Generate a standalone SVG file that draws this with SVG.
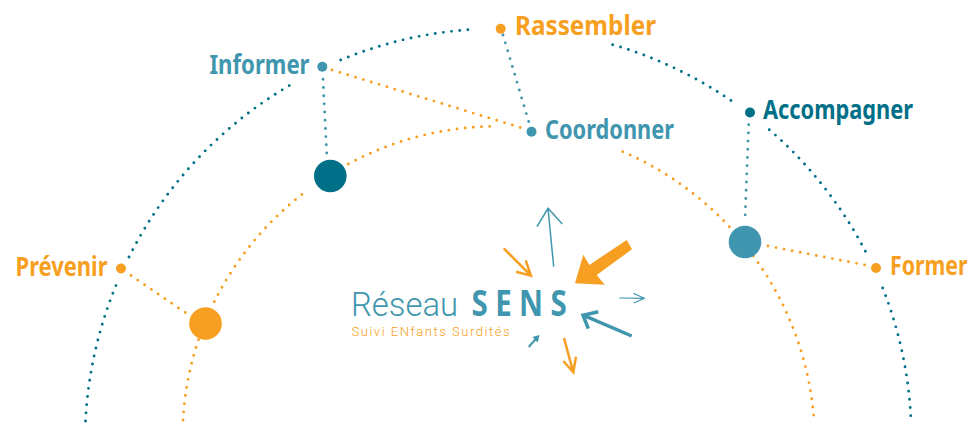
<svg xmlns="http://www.w3.org/2000/svg" width="970" height="423" viewBox="0 0 970 423">
<style>
.d{fill:none;stroke-width:2.9;stroke-linecap:round;stroke-dasharray:0 8.2}
.dk{stroke:#006f88}.lt{stroke:#4096ae}.or{stroke:#f79f20}
.fdk{fill:#006f88}.flt{fill:#4096ae}.for{fill:#f79f20}
.lab{font-family:"Noto Sans","Liberation Sans",sans-serif;font-weight:700;font-size:27px}
.ar{fill:none;stroke-linecap:butt;stroke-linejoin:miter}
</style>
<rect width="970" height="423" fill="#fff"/>
<g id="connectors">
<path class="d dk" d="M85.5 421A413 413 0 0 1 116.7 283.7"/>
<path class="d dk" d="M129 257A413 413 0 0 1 292 84"/>
<path class="d dk" d="M340.7 60A413 413 0 0 1 475.3 29.3"/>
<path class="d dk" d="M612.7 44.7A413 413 0 0 1 731.7 101"/>
<path class="d dk" d="M769.3 129.7A413 413 0 0 1 867.3 255"/>
<path class="d dk" d="M882.7 288A413 413 0 0 1 911 420"/>
<path class="d or" d="M183 420A315.7 315.7 0 0 1 198.7 339"/>
<path class="d or" d="M214.3 301.7A315.7 315.7 0 0 1 307.7 190"/>
<path class="d or" d="M348.3 164A315.7 315.7 0 0 1 497 126.3"/>
<path class="d or" d="M622.7 151.7A315.7 315.7 0 0 1 732.3 230"/>
<path class="d or" d="M753.3 256A315.7 315.7 0 0 1 814 420"/>
<path class="d or" d="M131 275.5L186.3 313.3"/>
<path class="d or" d="M332 70L524.3 128.7"/>
<path class="d or" d="M768 246L865 265"/>
<path class="d lt" d="M323 79.3L327 159.3"/>
<path class="d lt" d="M503 35L529.7 125"/>
<path class="d lt" d="M748.7 124.7L745 219.3"/>
</g>
<g id="node-informer"><circle class="flt" cx="322.3" cy="66.7" r="5"/><text class="lab flt" x="209.500" y="74" textLength="100" lengthAdjust="spacingAndGlyphs">Informer</text></g>
<g id="node-rassembler"><circle class="for" cx="500.700" cy="28.700" r="5"/><text class="lab for" x="515" y="35" textLength="141" lengthAdjust="spacingAndGlyphs">Rassembler</text></g>
<g id="node-coordonner"><circle class="flt" cx="531.500" cy="131.700" r="5"/><text class="lab flt" x="545" y="139" textLength="129" lengthAdjust="spacingAndGlyphs">Coordonner</text></g>
<g id="node-accompagner"><circle class="fdk" cx="750" cy="112.500" r="5"/><text class="lab fdk" x="763" y="119" textLength="150" lengthAdjust="spacingAndGlyphs">Accompagner</text></g>
<g id="node-former"><circle class="for" cx="876" cy="268" r="5"/><text class="lab for" transform="translate(890 275) scale(.79 1)">Former</text></g>
<g id="node-prevenir"><circle class="for" cx="121" cy="268.500" r="5"/><text class="lab for" x="15.500" y="276" textLength="92" lengthAdjust="spacingAndGlyphs">Prévenir</text></g>
<g id="node-hub-dark"><circle class="fdk" cx="330.300" cy="176" r="16.300"/></g>
<g id="node-hub-light"><circle class="flt" cx="745" cy="242" r="16.300"/></g>
<g id="node-hub-orange"><circle class="for" cx="205.500" cy="323.500" r="16.300"/></g>
<g id="logo">
<text class="flt" x="351" y="316" font-family="Roboto,'Noto Sans',sans-serif" font-weight="300" font-size="33" textLength="107" lengthAdjust="spacingAndGlyphs">Réseau</text>
<text class="flt" transform="translate(471.500 316) scale(.82 1)" font-family="'Noto Sans','Liberation Sans',sans-serif" font-weight="700" font-size="36" letter-spacing="9">SENS</text>
<text class="for" x="351.500" y="336" font-family="Roboto,'Noto Sans',sans-serif" font-weight="300" font-size="13" textLength="158">Suivi ENfants Surdités</text>
<polygon class="for" points="626.700,240 632,249.300 596.700,275 604.700,284.700 575,283.300 583.300,254.700 589.300,265"/>
<path class="ar or" stroke-width="2.500" d="M503.700 248.300L531 275.700M525.700 260.300L531 275.700L516 271.700"/>
<path class="ar or" stroke-width="2.500" d="M564 338L573.300 372.300M563.300 361L573.300 372.300L576 356.700"/>
<path class="ar lt" stroke-width="1.500" d="M553.700 266.700L548 208.300M537 226.700L548 208.300L562.300 224"/>
<path class="ar lt" stroke-width="1.200" d="M619.300 298L644.300 298.300M633.300 293.300L644.300 298.300L634 303"/>
<path class="ar lt" stroke-width="3.500" d="M631.700 336L583 315.200M598.300 311.700L583 315.200L588.300 328.700"/>
<path class="ar lt" stroke-width="2" d="M528.700 347L538 336.500"/>
<polygon class="flt" points="539.500,335 537.700,342.500 532.500,337"/>
</g>
</svg>
